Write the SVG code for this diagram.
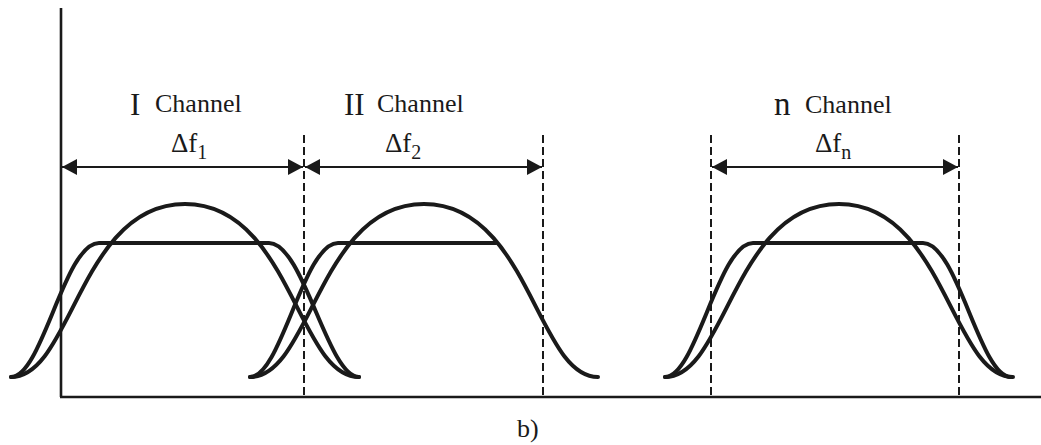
<svg xmlns="http://www.w3.org/2000/svg" width="1041" height="445" viewBox="0 0 1041 445">
<style>
.axis{stroke:#1a1a1a;stroke-width:2.6;fill:none}
.dash{stroke:#1a1a1a;stroke-width:2;stroke-dasharray:8 4;fill:none}
.curve{stroke:#1a1a1a;stroke-width:4;fill:none;stroke-linecap:round;stroke-linejoin:round}
.dim{stroke:#1a1a1a;stroke-width:2.2;fill:none}
.t{font-family:"Liberation Serif","Times New Roman",serif;fill:#1a1a1a}
</style>
<defs>
<marker id="ah" viewBox="0 0 15 16" refX="15" refY="8" markerWidth="15" markerHeight="16" markerUnits="userSpaceOnUse" orient="auto-start-reverse">
<path d="M0,0 L15,8 L0,16 Z" fill="#1a1a1a"/>
</marker>
</defs>
<rect width="1041" height="445" fill="#ffffff"/>
<g id="axes">
<line class="axis" x1="61" y1="8" x2="61" y2="397"/>
<line class="axis" x1="60" y1="397" x2="1041" y2="397"/>
</g>
<g id="channel-1">
<path class="curve" d="M11,377 C72,377 80,204 185,204 C290,204 298,377 359,377"/>
<path class="curve" d="M11,377 C42.3,377 64.5,243 99,243 L269,243 C303.5,243 327.7,377 359,377"/>
<text class="t" x="130" y="115" font-size="31">I</text>
<text class="t" x="155" y="112" font-size="26">Channel</text>
<text class="t" x="171" y="152" font-size="27">Δf<tspan font-size="20" dy="7">1</tspan></text>
</g>
<g id="channel-2">
<path class="curve" d="M250,377 C311,377 319,204 424,204 C529,204 537,377 598,377"/>
<path class="curve" d="M250,377 C281.3,377 303.5,243 338,243 L496,243"/>
<text class="t" x="344" y="115" font-size="31">II</text>
<text class="t" x="377" y="112" font-size="26">Channel</text>
<text class="t" x="385" y="152" font-size="27">Δf<tspan font-size="20" dy="7">2</tspan></text>
</g>
<g id="channel-n">
<path class="curve" d="M665,377 C726,377 734,204 839,204 C944,204 952,377 1013,377"/>
<path class="curve" d="M665,377 C696.3,377 718.5,243 753,243 L923,243 C957.5,243 979.7,377 1011,377"/>
<text class="t" x="774" y="115" font-size="33">n</text>
<text class="t" x="805" y="113" font-size="26">Channel</text>
<text class="t" x="815" y="152" font-size="27">Δf<tspan font-size="20" dy="7">n</tspan></text>
</g>
<g id="connectors">
<line class="dash" x1="304" y1="135" x2="304" y2="397"/>
<line class="dash" x1="543" y1="135" x2="543" y2="397"/>
<line class="dash" x1="711" y1="135" x2="711" y2="397"/>
<line class="dash" x1="959" y1="135" x2="959" y2="397"/>
<line class="dim" x1="62" y1="167" x2="303" y2="167" marker-start="url(#ah)" marker-end="url(#ah)"/>
<line class="dim" x1="305" y1="167" x2="542" y2="167" marker-start="url(#ah)" marker-end="url(#ah)"/>
<line class="dim" x1="712" y1="167" x2="958" y2="167" marker-start="url(#ah)" marker-end="url(#ah)"/>
</g>
<text class="t" x="517" y="437" font-size="26">b)</text>
</svg>
